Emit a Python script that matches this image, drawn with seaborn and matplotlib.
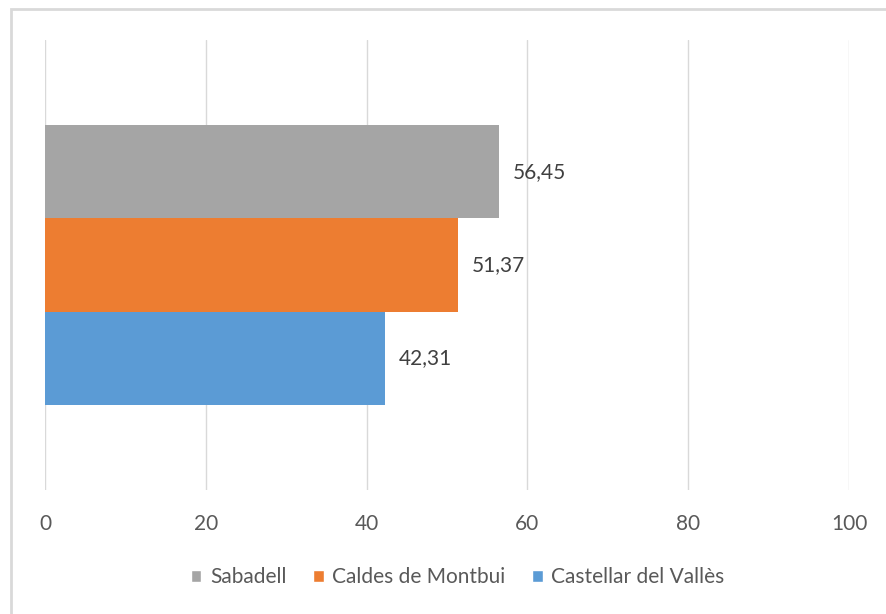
import pandas as pd
import matplotlib.pyplot as plt
import seaborn as sns
from matplotlib.patches import Patch, Rectangle

# data
towns = ["Sabadell", "Caldes de Montbui", "Castellar del Vallès"]
values = [56.45, 51.37, 42.31]
colors = ["#A5A5A5", "#ED7D31", "#5B9BD5"]
x_ticks = [0, 20, 40, 60, 80, 100]

df = pd.DataFrame({"cat": [""] * len(towns), "town": towns, "value": values})

sns.set_style("white")
plt.rcParams["font.family"] = ["Lato", "DejaVu Sans"]

fig = plt.figure(figsize=(8.87, 6.14), dpi=100)
ax = fig.add_axes([45 / 887, 124 / 614, 804 / 887, 450 / 614])

sns.barplot(data=df, y="cat", x="value", hue="town", hue_order=towns,
            palette=colors, orient="h", width=0.622, saturation=1,
            linewidth=0, legend=False, ax=ax)

#labels with comma decimals
for cont, v in zip(ax.containers, values):
    ax.bar_label(cont, labels=[f"{v:.2f}".replace(".", ",")], padding=10,
                 fontsize=15, color="#404040")

ax.set_xlim(0, 100)
ax.set_ylim(0.5, -0.5)
ax.set_xticks(x_ticks)
ax.set_xticklabels([str(t) for t in x_ticks], fontsize=15, color="#595959")
ax.set_yticks([])
ax.set_xlabel("")
ax.set_ylabel("")
ax.tick_params(axis="x", length=0, pad=17)
ax.xaxis.grid(True, color="#D9D9D9", linewidth=1)
ax.set_axisbelow(True)
for s in ax.spines.values():
    s.set_visible(False)

handles = [Patch(facecolor=c, label=t) for c, t in zip(colors, towns)]
fig.legend(handles=handles, loc="center", bbox_to_anchor=(0.516, 0.06), ncol=3,
           frameon=False, fontsize=15, labelcolor="#595959", handlelength=0.5,
           handleheight=0.5, handletextpad=0.4, columnspacing=1.3)

# outer chart border
fig.patches.append(Rectangle((11 / 887, -0.05), 1.1, 0.05 + 605 / 614,
                             transform=fig.transFigure, fill=False,
                             edgecolor="#D9D9D9", linewidth=2))

fig.savefig("out.png", dpi=100)
